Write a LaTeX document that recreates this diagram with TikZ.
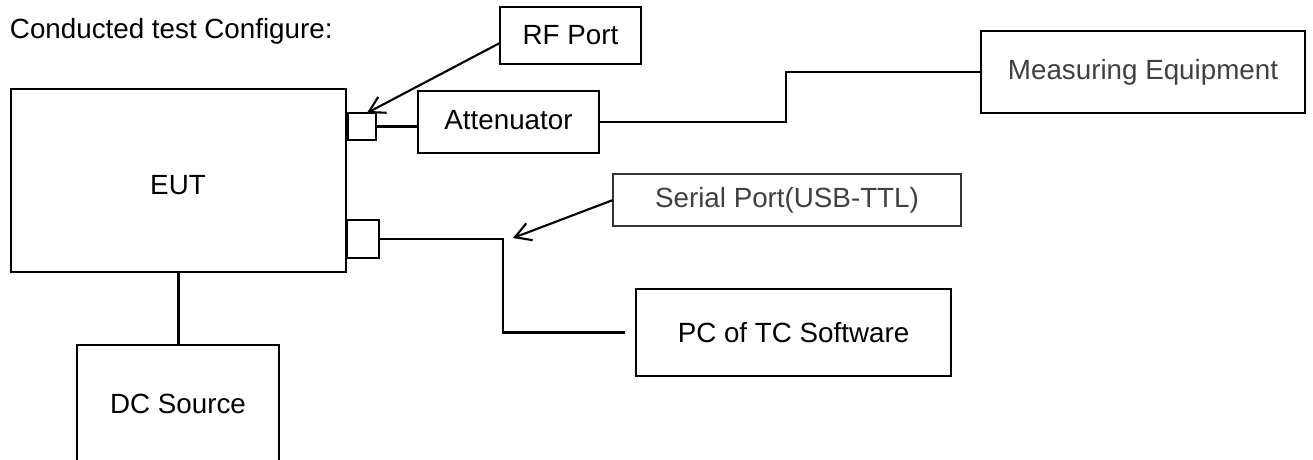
\documentclass[tikz,border=0pt]{standalone}
\usepackage{fontspec}
\setmainfont{Liberation Sans}
\usetikzlibrary{arrows.meta}

\begin{document}
\begin{tikzpicture}[x=0.2mm,y=-0.2mm,
  every node/.style={font=\fontsize{15.8pt}{19pt}\selectfont, inner sep=0pt, outer sep=0pt},
  unit/.style={draw, line width=0.9pt, rectangle},
  port/.style={draw, line width=1.5pt, rectangle},
  wire/.style={line width=1.6pt},
  pointer/.style={line width=1.2pt, -{Straight Barb[length=3.1mm,width=3.6mm]}}]
\useasboundingbox (0,0) rectangle (1313,459);

\node[anchor=base west] (title) at (10,38) {Conducted test Configure:};

% equipment under test and its ports
\node[unit, line width=1.1pt, minimum width=67mm, minimum height=36.6mm] (eut) at (178.5,180.5) {};
\node (euttext) at (178,185) {EUT};
\node[port, minimum width=5.6mm, minimum height=5.4mm] (rfsq) at (362,126.5) {};
\node[port, minimum width=6.4mm, minimum height=7.6mm] (usbsq) at (363,239) {};

\node[unit, minimum width=40.4mm, minimum height=23.4mm] (dc) at (178,403.5) {DC Source};
\node[unit, minimum width=36.2mm, minimum height=12.4mm, text depth=1mm] (att) at (508.5,122) {Attenuator};
\node[unit, minimum width=28.2mm, minimum height=11.4mm] (rf) at (570.5,35.5) {RF Port};
\node[unit, text=black!75, minimum width=64.8mm, minimum height=16.4mm] (meas) at (1143,72) {Measuring Equipment};
\node[unit, draw=black!80, text=black!75, minimum width=69.6mm, minimum height=10.4mm] (serial) at (787,200) {Serial Port(USB-TTL)};
\node[unit, minimum width=63mm, minimum height=17.4mm] (pc) at (793.5,332.5) {PC of TC Software};

\coordinate (usbtip) at (513,238);

% cables
\draw[wire] (rfsq.east) -- (rfsq.east -| att.west);
\draw[wire] (att.east) -- ++(187,0) |- (meas.west);
\draw[wire] (eut.south) -- (eut.south |- dc.north);
\draw[wire, shorten >=2.2mm] (usbsq.east) -- ++(124,0) |- (pc.west);

% labels pointing at the ports
\draw[pointer] (rf.186) -- (rfsq.70);
\draw[pointer] (serial.west) -- (usbtip);

\end{tikzpicture}
\end{document}
